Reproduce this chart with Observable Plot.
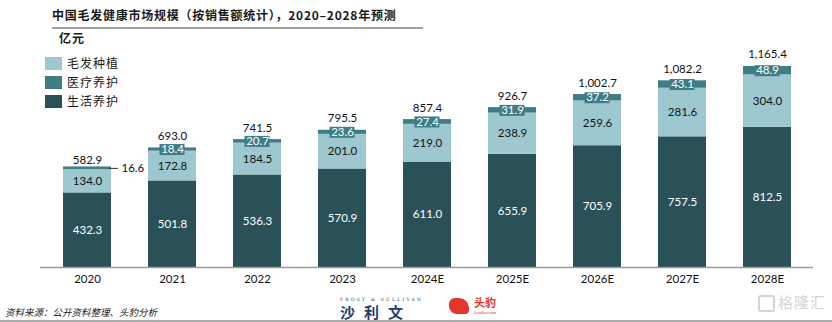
<!DOCTYPE html>
<html>
<head>
<meta charset="utf-8">
<script src="https://cdn.jsdelivr.net/npm/d3@7"></script>
<script src="https://cdn.jsdelivr.net/npm/@observablehq/plot@0.6"></script>
<style>
  body { margin: 0; background: #fff; }
  #wrap { position: relative; width: 832px; height: 322px; overflow: hidden; font-family: "Noto Sans CJK SC", sans-serif; }
  #chart { position: absolute; left: 0; top: 0; }
  .abs { position: absolute; white-space: nowrap; line-height: 1.2; }
  .title { left: 52px; top: 8px; font-size: 12px; font-weight: bold; color: #1a1a1a; letter-spacing: 0.75px; }
  .tline { left: 52px; top: 27px; width: 371px; height: 2px; background: #a0a0a0; }
  .unit { left: 59px; top: 31px; font-size: 12px; font-weight: bold; color: #1a1a1a; letter-spacing: 1px; }
  .leg { left: 45px; font-size: 12px; color: #1a1a1a; display: flex; align-items: center; }
  .leg span.sw { display: inline-block; width: 17px; height: 13px; margin-right: 5px; }
  .source { left: 5px; top: 307px; font-size: 9.5px; font-style: italic; color: #222; }
  .bline { left: 0; top: 320px; width: 832px; height: 1.5px; background: #aaa; }
  .fs { left: 340px; top: 297px; font-size: 4.5px; letter-spacing: 2.2px; color: #1f3d6d; font-family: "DejaVu Serif", serif; }
  .slw { left: 340px; top: 303px; font-size: 15px; font-weight: bold; letter-spacing: 9px; color: #1f3d6d; }
  .tb { left: 474px; top: 297px; font-size: 11px; font-weight: bold; color: #e3352a; line-height: 1; }
  .tbs { left: 474px; top: 311px; font-size: 4px; color: #e3352a; font-family: Lato, sans-serif; line-height: 1; }
  .tbi { left: 449px; top: 298px; width: 20px; height: 16px; background: #e3352a; border-radius: 6px 10px 4px 8px; }
  .wm { left: 778px; top: 293px; font-size: 15px; color: #d4d4d4; letter-spacing: 1px; }
  .wmg { left: 758px; top: 295px; width: 13px; height: 13px; border: 2px solid #d4d4d4; border-radius: 3px; }
</style>
</head>
<body>
<div id="wrap">
  <div id="chart"></div>
  <div class="abs title">中国毛发健康市场规模（按销售额统计），2020–2028年预测</div>
  <div class="abs tline"></div>
  <div class="abs unit">亿元</div>
  <div id="legend"></div>
  <div class="abs source">资料来源：公开资料整理、头豹分析</div>
  <div class="abs fs">FROST &amp; SULLIVAN</div>
  <div class="abs slw">沙利文</div>
  <div class="abs tbi"></div>
  <div class="abs tb">头豹</div>
  <div class="abs tbs">Leadleo.com</div>
  <div class="abs wmg"></div>
  <div class="abs wm">格隆汇</div>
  <div class="abs bline"></div>
</div>
<script>
const years = ["2020", "2021", "2022", "2023", "2024E", "2025E", "2026E", "2027E", "2028E"];
const life = [432.3, 501.8, 536.3, 570.9, 611.0, 655.9, 705.9, 757.5, 812.5];     // 生活养护
const hair = [134.0, 172.8, 184.5, 201.0, 219.0, 238.9, 259.6, 281.6, 304.0];     // 毛发种植
const medical = [16.6, 18.4, 20.7, 23.6, 27.4, 31.9, 37.2, 43.1, 48.9];           // 医疗养护
const totals = [582.9, 693.0, 741.5, 795.5, 857.4, 926.7, 1002.7, 1082.2, 1165.4];
const seriesNames = ["毛发种植", "医疗养护", "生活养护"];
const seriesColors = ["#9ec8cf", "#3f7d86", "#2b5158"];
const stackOrder = ["生活养护", "毛发种植", "医疗养护"];

const colorOf = Object.fromEntries(seriesNames.map((s, i) => [s, seriesColors[i]]));

// long table for the stacked bars
const rows = [];
years.forEach((y, i) => {
  rows.push({year: y, series: "生活养护", value: life[i]});
  rows.push({year: y, series: "毛发种植", value: hair[i]});
  rows.push({year: y, series: "医疗养护", value: medical[i]});
});

const info = years.map((y, i) => ({
  year: y,
  lifeMid: life[i] / 2,
  hairMid: life[i] + hair[i] / 2,
  medMid: life[i] + hair[i] + medical[i] / 2,
  life: life[i], hair: hair[i], medical: medical[i], total: totals[i]
}));
const fmt1 = d3.format(".1f");
const fmtT = d3.format(",.1f");
const inside = info.filter(d => d.medical >= 18);
const outside = info.filter(d => d.medical < 18);

const numFont = "Lato, 'Noto Sans', sans-serif";

const chart = Plot.plot({
  width: 832,
  height: 322,
  marginLeft: 40,
  marginRight: 19,
  marginTop: 60,
  marginBottom: 55,
  style: {fontFamily: numFont, fontSize: "11.5px", color: "#111", background: "transparent"},
  x: {domain: years, paddingInner: 0.44, paddingOuter: 0.22, label: null, tickSize: 0, tickPadding: 7},
  y: {domain: [0, 1200], axis: null},
  color: {domain: seriesNames, range: seriesColors},
  marks: [
    Plot.barY(rows, Plot.stackY({x: "year", y: "value", fill: d => colorOf[d.series], order: stackOrder})),
    Plot.ruleY([0], {stroke: "#9a9a9a", strokeWidth: 1.5}),
    // medical label boxes
    Plot.tickY(inside, {x: "year", y: "medMid", stroke: "#3f7d86", strokeWidth: 11, insetLeft: 11.5, insetRight: 11.5}),
    Plot.text(inside, {x: "year", y: "medMid", text: d => fmt1(d.medical), fill: "white", fontSize: 11.5}),
    // outside medical label with leader
    Plot.tickY(outside, {x: "year", y: "medMid", stroke: "#333", strokeWidth: 1, insetLeft: 46, insetRight: -7}),
    Plot.text(outside, {x: "year", y: "medMid", text: d => fmt1(d.medical), fill: "#111", textAnchor: "start", dx: 34, fontSize: 11.5}),
    // segment labels
    Plot.text(info, {x: "year", y: "lifeMid", text: d => fmt1(d.life), fill: "white", fontSize: 11.5}),
    Plot.text(info, {x: "year", y: "hairMid", text: d => fmt1(d.hair), fill: "#111", fontSize: 11.5}),
    // totals
    Plot.text(inside, {x: "year", y: "total", text: d => fmtT(d.total), fill: "#111", lineAnchor: "bottom", dy: -8, fontSize: 11.5}),
    Plot.text(outside, {x: "year", y: "total", text: d => fmtT(d.total), fill: "#111", lineAnchor: "bottom", dy: -3, fontSize: 11.5})
  ]
});
document.getElementById("chart").appendChild(chart);

// legend (HTML, overlaid)
const legend = document.getElementById("legend");
seriesNames.forEach((s, i) => {
  const el = document.createElement("div");
  el.className = "abs leg";
  el.style.top = (56 + i * 19) + "px";
  el.innerHTML = `<span class="sw" style="background:${seriesColors[i]}"></span><span style="letter-spacing:1px">${s}</span>`;
  legend.appendChild(el);
});
</script>
</body>
</html>
